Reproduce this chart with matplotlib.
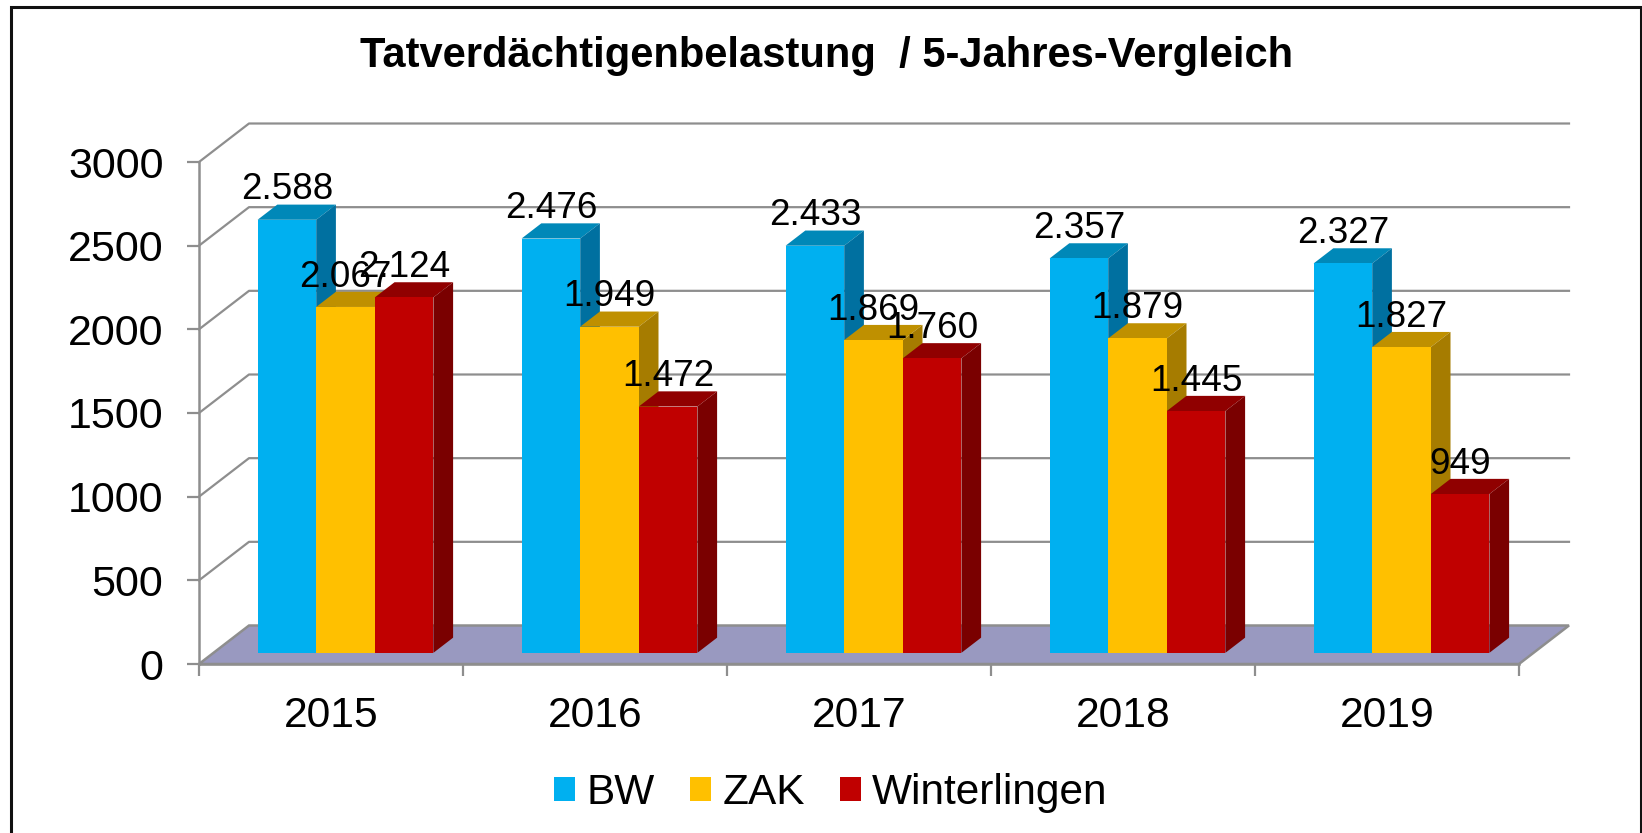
import matplotlib
matplotlib.use("Agg")
import matplotlib.pyplot as plt
from matplotlib.patches import Polygon, Rectangle, Patch
import numpy as np

plt.rcParams['font.family'] = ['Liberation Sans', 'DejaVu Sans']

years = ['2015', '2016', '2017', '2018', '2019']
bw = [2588, 2476, 2433, 2357, 2327]
zak = [2067, 1949, 1869, 1879, 1827]
winterlingen = [2124, 1472, 1760, 1445, 949]
labels_bw = ['2.588', '2.476', '2.433', '2.357', '2.327']
labels_zak = ['2.067', '1.949', '1.869', '1.879', '1.827']
labels_win = ['2.124', '1.472', '1.760', '1.445', '949']
yticks = [0, 500, 1000, 1500, 2000, 2500, 3000]
title = 'Tatverdächtigenbelastung  / 5-Jahres-Vergleich'

W, H = 1642, 833
fig = plt.figure(figsize=(W / 100, H / 100), dpi=100, facecolor='white')
L, R, T, B = 199, 1519, 162, 664
ax = fig.add_axes([L / W, 1 - B / H, (R - L) / W, (B - T) / H])
ax.set_xlim(0, 5)
ax.set_ylim(0, 3000)
ax.patch.set_visible(False)

GRID = '#8e8e8e'
DX = 50 / ((R - L) / 5)          # full depth of the 3-D box in x data units
DY = 38.5 * 3000 / (B - T)       # full depth of the 3-D box in y data units
D0, D1 = 0.29, 0.684             # front / back depth of the bars
BW = 58.6 / ((R - L) / 5)        # bar width

# floor
ax.add_patch(Polygon([(0, 0), (5, 0), (5 + DX, DY), (DX, DY)], closed=True,
                     facecolor='#9999C0', edgecolor=GRID, lw=1.8, zorder=1, clip_on=False))
# gridlines
for v in yticks[1:]:
    ax.plot([0, DX, 5 + DX], [v, v + DY, v + DY], color=GRID, lw=1.6, zorder=1, clip_on=False)

series = [
    (bw, labels_bw, 'BW', '#00B0F0', '#0088B8', '#0070A0'),
    (zak, labels_zak, 'ZAK', '#FFC000', '#BF9000', '#A67C00'),
    (winterlingen, labels_win, 'Winterlingen', '#C00000', '#900000', '#7A0000'),
]
z = 3
for s, (vals, labs, name, front, top, side) in enumerate(series):
    for i, v in enumerate(vals):
        x0 = i + 0.5 + DX * D0 + (s - 1.5) * BW
        x1 = x0 + BW
        y0 = D0 * DY
        y1 = y0 + v
        ox, oy = DX * (D1 - D0), DY * (D1 - D0)
        ax.add_patch(Polygon([(x0, y1), (x1, y1), (x1 + ox, y1 + oy), (x0 + ox, y1 + oy)],
                             closed=True, facecolor=top, edgecolor='none', zorder=z, clip_on=False))
        ax.add_patch(Polygon([(x1, y0), (x1 + ox, y0 + oy), (x1 + ox, y1 + oy), (x1, y1)],
                             closed=True, facecolor=side, edgecolor='none', zorder=z, clip_on=False))
        ax.bar(x0, v, width=BW, bottom=y0, align='edge', color=front, zorder=z + 0.5, clip_on=False)
    z += 1

for s, (vals, labs, *_ ) in enumerate(series):
    for i, (v, lab) in enumerate(zip(vals, labs)):
        xc = i + 0.5 + DX * D0 + (s - 1) * BW
        ax.text(xc, v + D0 * DY + 122, lab, ha='center', va='baseline',
                fontsize=26.6, color='black', zorder=20, clip_on=False)

# axes
for sp in ('top', 'right'):
    ax.spines[sp].set_visible(False)
for sp in ('left', 'bottom'):
    ax.spines[sp].set_color(GRID)
    ax.spines[sp].set_linewidth(1.8)
    ax.spines[sp].set_zorder(2)
ax.set_yticks(yticks)
ax.set_yticklabels([str(v) for v in yticks], fontsize=31)
ax.tick_params(axis='y', length=8.6, width=1.6, color=GRID, pad=17)
ax.set_xticks(np.arange(6))
ax.set_xticklabels([])
ax.set_xticks(np.arange(5) + 0.5, minor=True)
ax.set_xticklabels(years, minor=True, fontsize=30.7)
ax.tick_params(axis='x', which='major', length=8.6, width=1.6, color=GRID)
ax.tick_params(axis='x', which='minor', length=0, pad=23)

# title
fig.text(827 / W, 1 - 67 / H, title, ha='center', va='baseline', fontsize=30, fontweight='bold')

# legend
handles = [Patch(facecolor=s[3], edgecolor='none', label=s[2]) for s in series]
fig.legend(handles=handles, loc='center', bbox_to_anchor=(831 / W, 1 - 793 / H), ncol=3,
           frameon=False, fontsize=30.5, handlelength=0.5, handleheight=0.5,
           handletextpad=0.27, columnspacing=0.82, borderpad=0)

# chart frame
fig.add_artist(Rectangle((10.5 / W, -0.05), (1640.5 - 10.5) / W, 1.05 - 7 / H, transform=fig.transFigure,
                         facecolor='none', edgecolor='#111111', lw=2.2))

fig.savefig('out.png', dpi=100, facecolor='white')
